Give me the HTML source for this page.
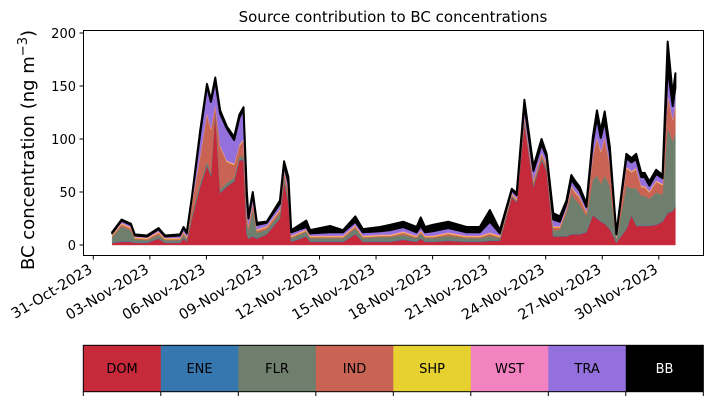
<!DOCTYPE html>
<html><head><meta charset="utf-8"><style>
body{margin:0;background:#fff;}
svg text{font-family:"DejaVu Sans","Liberation Sans",sans-serif;}
</style></head><body>
<svg id="chart" width="713" height="402" viewBox="0 0 713 402" xmlns="http://www.w3.org/2000/svg">
<text x="393" y="22" font-size="15" text-anchor="middle">Source contribution to BC concentrations</text>
<text transform="translate(34,150) rotate(-90)" font-size="18" text-anchor="middle">BC concentration (ng m<tspan dy="-7" font-size="13">−3</tspan><tspan dy="7">)</tspan></text>
<g id="areas"></g>
<rect x="83.5" y="30.5" width="620" height="225" fill="none" stroke="#000" stroke-width="1"/>
<g id="yaxis"></g>
<g id="xaxis"></g>
<g id="cbar"></g>
</svg>
<script>
const days=[1.0,1.5,2.0,2.2,2.85,3.46,3.8,4.6,4.79,4.96,
5.23,5.67,6.03,6.24,6.47,6.73,7.08,7.47,7.75,7.97,
8.14,8.23,8.46,8.68,9.2,9.9,10.12,10.35,10.5,11.3,
11.5,12.56,13.25,13.9,14.3,15.2,15.74,16.44,17.15,17.37,
17.6,18.0,18.83,19.8,20.5,21.04,21.57,22.2,22.46,22.87,
23.35,23.78,24.05,24.4,24.75,25.1,25.36,25.54,25.8,26.16,
26.5,26.72,26.92,27.13,27.4,27.75,28.28,28.55,28.8,29.07,
29.25,29.5,29.86,30.2,30.47,30.74,30.88];
const DOM=[2,3,3,2,2,6,2,2,6,3, 25,55,75,65,125,49,55,60,80,80, 10,6,8,6,10,25,60,40,3,8, 3,3,3,10,3,3,3,5,3,6, 3,3,4,3,3,4,4,45,40,115, 55,80,70,8,8,8,10,10,10,12, 28,25,22,20,15,2,15,28,18,18, 18,18,19,22,30,32,36];
const ENE=[0.5,0.5,0.5,0.5,0.5,0.5,0.5,0.5,0.5,0.5, 0.5,0.5,0.5,0.5,0.5,0.5,0.5,0.5,0.5,0.5, 0.5,0.5,0.5,0.5,0.5,0.5,0.5,0.5,0.5,0.5, 0.5,0.5,0.5,0.5,0.5,0.5,0.5,0.5,0.5,0.5, 0.5,0.5,0.5,0.5,0.5,0.5,0.5,0.5,0.5,0.5, 0.5,0.5,0.5,0.5,0.5,0.5,0.5,0.5,0.5,0.5, 0.5,0.5,0.5,0.5,0.5,0.5,0.5,0.5,0.5,0.5, 0.5,0.5,0.5,0.5,0.5,0.5,0.5];
const FLR=[5,14,10,3,2,3,2,2,3,2, 3,3,3,3,2,3,3,3,3,3, 10,8,25,5,4,4,4,4,3,4, 3,3,3,5,3,4,4,4,3,4, 3,3,4,3,3,4,2,1,1,2, 2,2,2,5,6,22,38,33,28,15, 33,40,35,45,40,3,40,25,35,28, 28,25,30,25,80,65,70];
const IND=[1,2,2,1,1,2,1,1,2,1, 10,25,45,40,4,40,20,12,10,15, 8,3,5,2,2,3,5,5,1,1, 1,1,1,2,1,1,1,2,1,2, 1,1,2,1,1,2,1,1,1,3, 3,3,3,3,2,3,6,6,6,3, 22,35,30,35,20,1,17,15,18,8, 8,6,10,9,30,20,25];
const SHP=[0.7,0.7,0.7,0.7,0.7,0.7,0.7,0.7,0.7,0.7, 0.7,0.7,0.7,0.7,0.7,0.7,0.7,0.7,0.7,0.7, 0.7,0.7,0.7,0.7,0.7,0.7,0.7,0.7,0.7,0.7, 0.7,0.7,0.7,0.7,0.7,0.7,0.7,0.7,0.7,0.7, 0.7,0.7,0.7,0.7,0.7,0.7,0.7,0.7,0.7,0.7, 0.7,0.7,0.7,0.7,0.7,0.7,0.7,0.7,0.7,0.7, 0.7,0.7,0.7,0.7,0.7,0.7,0.7,0.7,0.7,0.7, 0.7,0.7,0.7,0.7,0.7,0.7,0.7];
const WST=[0.8,0.8,0.8,0.8,0.8,0.8,0.8,0.8,0.8,0.8, 0.8,0.8,0.8,0.8,0.8,0.8,0.8,0.8,0.8,0.8, 0.8,0.8,0.8,0.8,0.8,0.8,0.8,0.8,0.8,0.8, 0.8,0.8,0.8,0.8,0.8,0.8,0.8,0.8,0.8,0.8, 0.8,0.8,0.8,0.8,0.8,0.8,0.8,0.8,0.8,0.8, 0.8,0.8,0.8,0.8,0.8,0.8,0.8,0.8,0.8,0.8, 0.8,0.8,0.8,0.8,0.8,0.8,0.8,0.8,0.8,0.8, 0.8,0.8,0.8,0.8,0.8,0.8,0.8];
const TRA=[1,2,2,1,1,2,1,2,3,3, 5,20,25,25,22,30,30,22,25,28, 15,6,8,4,3,5,5,8,3,2, 2,3,3,3,3,3,4,4,3,4, 3,4,4,3,3,10,2,3,3,10, 8,8,6,6,4,4,6,6,5,4, 12,18,12,15,10,2,8,8,8,8, 8,5,6,5,25,12,15];
const BB=[1,1,1,1,1,1,1,1,1,1, 0.5,3,2,2,3,3,2,3,3,2, 7,2,2,2,1,3,3,5,2,6, 3,6,2,5,3,4,5,5,5,8, 5,6,6,5,5,11,3,1,2,5, 4,5,3,6,5,3,4,4,4,3, 5,7,7,9,6,1,4,4,5,4, 4,4,4,3,25,11,14];
const names=["DOM","ENE","FLR","IND","SHP","WST","TRA","BB"];
const colors=["#c62a3a","#3777b0","#6e7f6e","#c96455","#e6d130","#f283c0","#9370db","#000000"];
const yTicks=[0,50,100,150,200];
const xTickDays=[0,3,6,9,12,15,18,21,24,27,30];
const xTickLabels=["31-Oct-2023","03-Nov-2023","06-Nov-2023","09-Nov-2023","12-Nov-2023","15-Nov-2023","18-Nov-2023","21-Nov-2023","24-Nov-2023","27-Nov-2023","30-Nov-2023"];

const NS="http://www.w3.org/2000/svg";
const X=d=>93.3+d*18.85;
const Y=v=>245-v*1.06;
function mk(tag,attrs,parent){const e=document.createElementNS(NS,tag);for(const k in attrs)e.setAttribute(k,attrs[k]);parent.appendChild(e);return e;}
const series=[DOM,ENE,FLR,IND,SHP,WST,TRA,BB];
const areas=document.getElementById('areas');
let base=days.map(()=>0);
series.forEach((s,si)=>{
  const top=base.map((b,i)=>b+s[i]);
  let d="M"+days.map((t,i)=>X(t).toFixed(2)+","+Y(top[i]).toFixed(2)).join("L");
  for(let i=days.length-1;i>=0;i--)d+="L"+X(days[i]).toFixed(2)+","+Y(base[i]).toFixed(2);
  const p=mk('path',{d:d+"Z",fill:colors[si],stroke:colors[si],'stroke-width':si==7?2:0.4,'stroke-linejoin':'round'},areas);
  
  
  base=top;
});
const ya=document.getElementById('yaxis');
yTicks.forEach(v=>{
  const l=mk('line',{x1:79.5,x2:83.5,y1:Y(v),y2:Y(v),stroke:'#000'},ya);
  
  
  const t=mk('text',{x:76,y:Y(v)+5,'font-size':13,'text-anchor':'end'},ya);
  t.textContent=v;
  
  
});
const xa=document.getElementById('xaxis');
xTickDays.forEach((d,i)=>{
  const x=X(d);
  const l=mk('line',{x1:x,x2:x,y1:255.5,y2:259.5,stroke:'#000'},xa);
  
  
  const t=mk('text',{transform:`translate(${x},${272}) rotate(-31)`,'font-size':14.5,'text-anchor':'end'},xa);
  t.textContent=xTickLabels[i];
  
  
});
const cb=document.getElementById('cbar');
const w=620/8;
names.forEach((n,i)=>{
  const r=mk('rect',{x:83.3+i*w,y:345.3,width:w+0.3,height:46.4,fill:colors[i]},cb);
  
  
  const t=mk('text',{x:83.3+(i+0.5)*w,y:373,'font-size':13,'text-anchor':'middle',fill:i==7?'#fff':'#000'},cb);
  t.textContent=n;
  
  
});
for(let i=0;i<=8;i++){
  const l=mk('line',{x1:83.3+i*w,x2:83.3+i*w,y1:391.7,y2:396,stroke:'#000'},cb);
  
  
}
const fr=mk('rect',{x:83.3,y:345.3,width:620,height:46.4,fill:'none',stroke:'#000','stroke-width':1},cb);


</script>
</body></html>
